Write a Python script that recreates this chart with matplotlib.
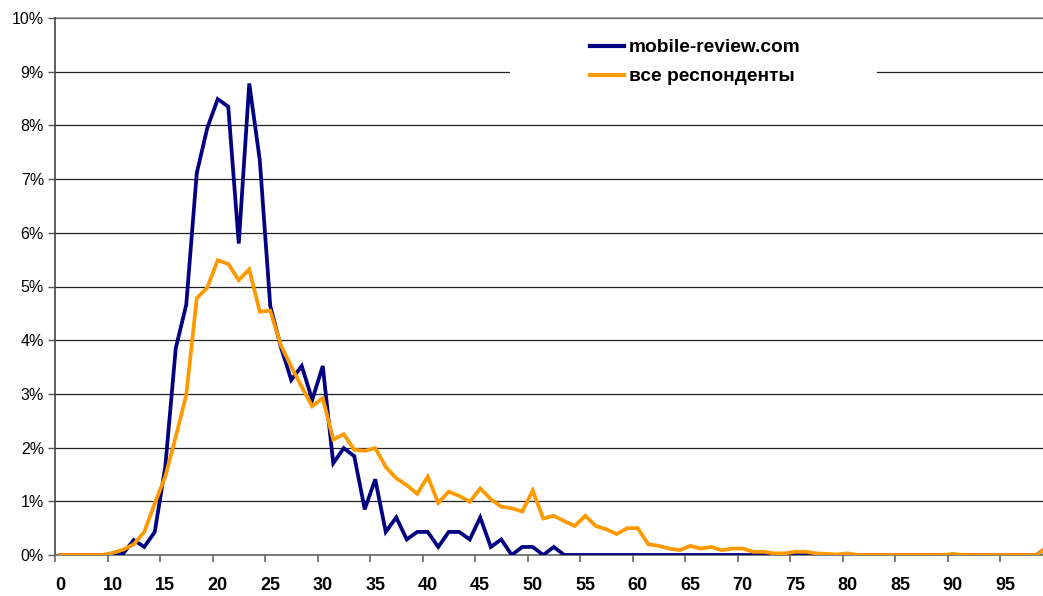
import matplotlib
matplotlib.use("Agg")
import matplotlib.pyplot as plt
from matplotlib.patches import Rectangle
from matplotlib.ticker import FixedLocator, FuncFormatter

# ---- data ----
ages = [0] + list(range(6, 100))

mobile_review = [
    0,                                   # 0
    0, 0, 0, 0, 0,                       # 6-10
    0.03, 0.28, 0.15, 0.43, 1.64,        # 11-15
    3.85, 4.66, 7.11, 7.95, 8.49,        # 16-20
    8.35, 5.80, 8.78, 7.36, 4.64,        # 21-25
    3.88, 3.26, 3.52, 2.89, 3.52,        # 26-30
    1.71, 1.99, 1.84, 0.85, 1.41,        # 31-35
    0.43, 0.70, 0.29, 0.43, 0.43,        # 36-40
    0.15, 0.43, 0.43, 0.29, 0.70,        # 41-45
    0.15, 0.29, 0, 0.15, 0.15,           # 46-50
    0, 0.15, 0, 0, 0,                    # 51-55
    0, 0, 0, 0, 0,                       # 56-60
    0, 0, 0, 0, 0,                       # 61-65
    0, 0, 0, 0, 0,                       # 66-70
    0, 0, 0, 0, 0,                       # 71-75
    0, 0, 0, 0, 0,                       # 76-80
    0, 0, 0, 0, 0,                       # 81-85
    0, 0, 0, 0, 0,                       # 86-90
    0, 0, 0, 0, 0,                       # 91-95
    0, 0, 0, 0.15,                       # 96-99
]

all_respondents = [
    0,                                   # 0
    0, 0, 0, 0, 0.04,                    # 6-10
    0.10, 0.20, 0.43, 0.96, 1.46,        # 11-15
    2.20, 2.98, 4.78, 4.98, 5.49,        # 16-20
    5.42, 5.12, 5.32, 4.53, 4.55,        # 21-25
    3.91, 3.51, 3.13, 2.77, 2.92,        # 26-30
    2.15, 2.25, 1.96, 1.94, 1.99,        # 31-35
    1.64, 1.43, 1.30, 1.14, 1.46,        # 36-40
    0.97, 1.18, 1.10, 0.99, 1.24,        # 41-45
    1.04, 0.90, 0.87, 0.81, 1.20,        # 46-50
    0.68, 0.73, 0.63, 0.54, 0.73,        # 51-55
    0.54, 0.48, 0.39, 0.50, 0.50,        # 56-60
    0.20, 0.17, 0.12, 0.09, 0.17,        # 61-65
    0.12, 0.15, 0.09, 0.12, 0.12,        # 66-70
    0.06, 0.06, 0.03, 0.03, 0.06,        # 71-75
    0.06, 0.03, 0.02, 0.01, 0.03,        # 76-80
    0, 0, 0, 0, 0,                       # 81-85
    0, 0, 0, 0, 0.02,                    # 86-90
    0, 0, 0, 0, 0,                       # 91-95
    0, 0, 0, 0.15,                       # 96-99
]

series_names = ["mobile-review.com", "все респонденты"]
y_ticks = list(range(0, 11))

# ---- figure ----
plt.rcParams['font.family'] = ['Liberation Sans', 'DejaVu Sans']
W, H = 1043, 596
fig = plt.figure(figsize=(W / 100, H / 100), dpi=100)
ax = fig.add_axes([55 / W, (H - 555) / H, (W - 55) / W, (555 - 18) / H])

idx = list(range(len(ages)))
ax.plot(idx, mobile_review, color='#000080', lw=2.7, zorder=3,
        label=series_names[0], solid_joinstyle='miter')
ax.plot(idx, all_respondents, color='#FF9900', lw=2.7, zorder=3.1,
        label=series_names[1], solid_joinstyle='miter')

ax.set_ylim(0, 10)
ax.set_xlim(-0.5, (W - 55) / 10.5 - 0.5)

# y axis
ax.yaxis.set_major_locator(FixedLocator(y_ticks))
ax.yaxis.set_major_formatter(FuncFormatter(lambda v, p: f"{v:.0f}%"))
ax.tick_params(axis='y', direction='out', length=5, width=1, color='#555555',
               labelsize=11.5, pad=3, labelcolor='black')
ax.grid(axis='y', color='#222222', lw=0.9)
ax.set_axisbelow(True)

# x axis: ticks between categories every 5, labels at categories
lab_idx = list(range(0, len(ages), 5))
ax.set_xticks([i - 0.5 for i in lab_idx])
ax.set_xticklabels([])
ax.set_xticks(lab_idx, minor=True)
ax.set_xticklabels([str(ages[i]) for i in lab_idx], minor=True)
ax.tick_params(axis='x', which='major', direction='out', length=5, width=1.2,
               color='#666666')
ax.tick_params(axis='x', which='minor', length=0, pad=16, labelsize=13)
for t in ax.get_xticklabels(minor=True):
    t.set_fontweight('bold')

for s in ['top', 'right']:
    ax.spines[s].set_visible(False)
ax.spines['left'].set_color('#444444')
ax.spines['left'].set_linewidth(1.2)
ax.spines['bottom'].set_color('#666666')
ax.spines['bottom'].set_linewidth(1.2)

# top gridline (10%) appears gray
ax.axhline(10, color='#888888', lw=1.2, zorder=1, clip_on=False)

# legend area (white box hiding gridline)
ax.add_patch(Rectangle((0.4605, 0.857), 0.3715, 0.12, transform=ax.transAxes,
                       facecolor='white', edgecolor='none', zorder=1.5))
leg = ax.legend(loc='upper left', bbox_to_anchor=((590 - 55) / 988, (555 - 39) / 537),
                frameon=False, borderpad=0, borderaxespad=0,
                handlelength=1.75, handletextpad=0.28, labelspacing=0.6,
                prop={'weight': 'bold', 'size': 13.8})
leg.set_zorder(5)
for ln in leg.get_lines():
    ln.set_linewidth(3)

fig.savefig('out.png', dpi=100)
